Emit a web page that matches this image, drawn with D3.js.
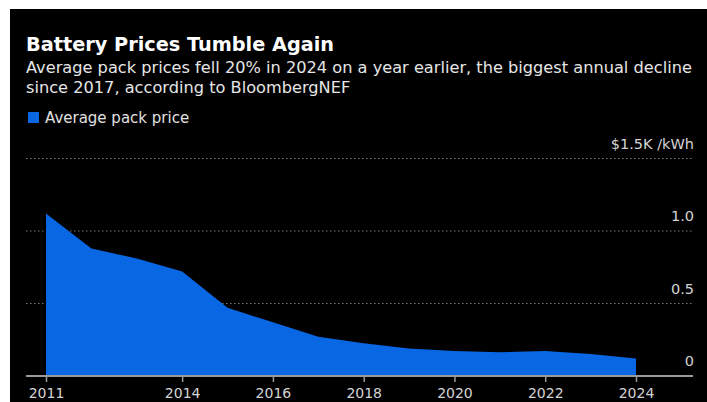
<!DOCTYPE html>
<html>
<head>
<meta charset="utf-8">
<script src="https://cdn.jsdelivr.net/npm/d3@7"></script>
<style>
  html, body { margin: 0; padding: 0; background: #fff; }
  svg { display: block; }
</style>
</head>
<body>
<svg id="chart" width="707" height="402"></svg>
<script>
// Average lithium-ion battery pack price, $K per kWh (BloombergNEF)
const years = [2011, 2012, 2013, 2014, 2015, 2016, 2017, 2018, 2019, 2020, 2021, 2022, 2023, 2024];
const packPrice = [1.12, 0.88, 0.81, 0.72, 0.47, 0.37, 0.27, 0.226, 0.19, 0.173, 0.164, 0.173, 0.152, 0.12];
const xTickYears = [2011, 2014, 2016, 2018, 2020, 2022, 2024];
const yTicks = [0, 0.5, 1.0, 1.5];
const yTickLabels = ["0", "0.5", "1.0", "$1.5K /kWh"];

const titleText = "Battery Prices Tumble Again";
const subtitleLines = [
  "Average pack prices fell 20% in 2024 on a year earlier, the biggest annual decline",
  "since 2017, according to BloombergNEF"
];
const legendLabel = "Average pack price";

const FONT = "'DejaVu Sans', sans-serif";
const BLUE = "#0a67e4";

const svg = d3.select("#chart");

// dark panel
svg.append("rect").attr("x", 10).attr("y", 9).attr("width", 697).attr("height", 393).attr("fill", "#000");

// headings
svg.append("text").attr("x", 26).attr("y", 51)
  .attr("font-family", FONT).attr("font-weight", "bold").attr("font-size", 19.3)
  .attr("fill", "#fff").text(titleText);

svg.selectAll("text.sub").data(subtitleLines).join("text")
  .attr("class", "sub")
  .attr("x", 26).attr("y", (d, i) => 73 + i * 19.7)
  .attr("font-family", FONT).attr("font-size", 16.2)
  .attr("fill", "#e6e6e6").text(d => d);

// legend
svg.append("rect").attr("x", 28).attr("y", 112).attr("width", 11).attr("height", 11).attr("fill", BLUE);
svg.append("text").attr("x", 45).attr("y", 123)
  .attr("font-family", FONT).attr("font-size", 15)
  .attr("fill", "#e0e0e0").text(legendLabel);

// scales
const plotLeft = 26, plotRight = 693;
const x = d3.scaleLinear().domain([2011, 2024]).range([46, 636]);
const y = d3.scaleLinear().domain([0, 1.5]).range([376, 158.5]);

// gridlines
svg.append("g").selectAll("line").data(yTicks.filter(d => d > 0)).join("line")
  .attr("x1", plotLeft).attr("x2", plotRight)
  .attr("y1", d => y(d)).attr("y2", d => y(d))
  .attr("stroke", "#7a7a7a").attr("stroke-width", 1)
  .attr("stroke-dasharray", "1.5,2.5");

// area
const area = d3.area()
  .x((d, i) => x(years[i]))
  .y0(y(0))
  .y1(d => y(d))
  .curve(d3.curveLinear);

svg.append("path").datum(packPrice)
  .attr("d", area)
  .attr("fill", BLUE);

// y labels (right side, above each line)
svg.append("g").selectAll("text").data(yTicks).join("text")
  .attr("x", 694).attr("y", d => y(d) - 10)
  .attr("text-anchor", "end")
  .attr("font-family", FONT).attr("font-size", 14.5)
  .attr("fill", "#d4d4d4")
  .text((d, i) => yTickLabels[i]);

// x axis
const xAxis = d3.axisBottom(x)
  .tickValues(xTickYears)
  .tickFormat(d3.format("d"))
  .tickSize(6)
  .tickSizeOuter(0);

const gx = svg.append("g").attr("transform", `translate(0,${y(0)})`).call(xAxis);
gx.select(".domain").remove();
gx.selectAll(".tick line").attr("stroke", "#9a9a9a").attr("stroke-width", 1.5);
gx.selectAll(".tick text")
  .attr("font-family", FONT).attr("font-size", 14)
  .attr("fill", "#d4d4d4").attr("y", 22).attr("dy", null);

svg.append("line")
  .attr("x1", plotLeft).attr("x2", plotRight)
  .attr("y1", y(0)).attr("y2", y(0))
  .attr("stroke", "#9a9a9a").attr("stroke-width", 2);
</script>
</body>
</html>
